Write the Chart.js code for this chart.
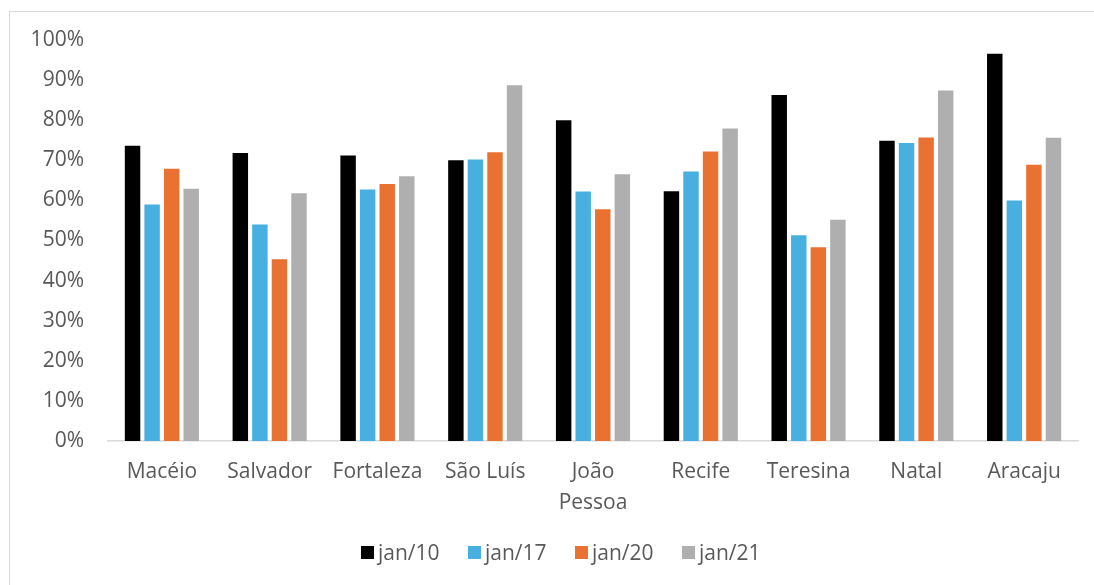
<!DOCTYPE html>
<html>
<head>
<meta charset="utf-8">
<script src="https://cdn.jsdelivr.net/npm/chart.js@4.4.1/dist/chart.umd.min.js"></script>
<style>
  html, body { margin: 0; padding: 0; background: #ffffff; }
  #wrap { position: relative; width: 1094px; height: 585px; overflow: hidden; }
  #frame { position: absolute; left: 9px; top: 11px; right: -2px; bottom: -2px;
           border-left: 1.5px solid #d9d9d9; border-top: 1.5px solid #d9d9d9; }
  canvas { position: absolute; left: 0; top: 0; }
  #legend { position: absolute; left: 361px; top: 540px; height: 24px; display: flex;
            font-family: "Open Sans", sans-serif; font-size: 21px; color: #595959; }
  .item { width: 107px; display: flex; align-items: center; white-space: nowrap; }
  .box { width: 13px; height: 13px; margin-right: 4px; flex: none; }
</style>
</head>
<body>
<div id="wrap">
  <div id="frame"></div>
  <canvas id="c" width="1094" height="585"></canvas>
  <div id="legend"></div>
</div>
<script>
// Cities (x categories)
const cities = [
  "Macéio", "Salvador", "Fortaleza", "São Luís", ["João", "Pessoa"],
  "Recife", "Teresina", "Natal", "Aracaju"
];

// Series labels
const seriesNames = ["jan/10", "jan/17", "jan/20", "jan/21"];

// Values in percent, one array per series
const jan10 = [73.6, 71.8, 71.2, 70.0, 80.0, 62.3, 86.3, 74.9, 96.6];
const jan17 = [59.0, 54.0, 62.7, 70.2, 62.2, 67.2, 51.3, 74.3, 60.0];
const jan20 = [67.9, 45.3, 64.1, 72.0, 57.8, 72.2, 48.3, 75.7, 68.9];
const jan21 = [62.9, 61.8, 66.0, 88.7, 66.5, 77.9, 55.2, 87.4, 75.6];

// Y axis tick values
const yTicks = [0, 10, 20, 30, 40, 50, 60, 70, 80, 90, 100];

const seriesColors = ["#000000", "#47B0E0", "#E97132", "#AFAFAF"];
const seriesValues = [jan10, jan17, jan20, jan21];

const textColor = "#595959";
const fontFamily = "'Open Sans', sans-serif";

const datasets = seriesNames.map((name, i) => ({
  label: name,
  data: seriesValues[i],
  backgroundColor: seriesColors[i],
  borderWidth: 0,
  categoryPercentage: 0.726,
  barPercentage: 0.79
}));

new Chart(document.getElementById("c"), {
  type: "bar",
  data: { labels: cities, datasets },
  options: {
    responsive: false,
    animation: false,
    layout: { padding: { left: 10, right: 16, top: 40, bottom: 0 } },
    plugins: { legend: { display: false }, tooltip: { enabled: false } },
    scales: {
      x: {
        grid: { display: false, drawTicks: false },
        border: { display: true, color: "#d9d9d9", width: 1.5 },
        ticks: {
          color: textColor,
          font: { family: fontFamily, size: 21, lineHeight: 1.45 },
          padding: 16,
          maxRotation: 0,
          autoSkip: false
        },
        afterFit: (scale) => { scale.height = 144; }
      },
      y: {
        min: 0,
        max: 100,
        afterBuildTicks: (scale) => { scale.ticks = yTicks.map(v => ({ value: v })); },
        grid: { display: false, drawTicks: false },
        border: { display: false },
        ticks: {
          color: textColor,
          font: { family: fontFamily, size: 21 },
          padding: 24,
          callback: (v) => v + "%"
        },
        afterFit: (scale) => { scale.width = 98; }
      }
    }
  }
});

// Legend row built from the same series names and colours
const legend = document.getElementById("legend");
seriesNames.forEach((name, i) => {
  const item = document.createElement("div");
  item.className = "item";
  const box = document.createElement("span");
  box.className = "box";
  box.style.background = seriesColors[i];
  const label = document.createElement("span");
  label.textContent = name;
  item.appendChild(box);
  item.appendChild(label);
  legend.appendChild(item);
});
</script>
</body>
</html>
